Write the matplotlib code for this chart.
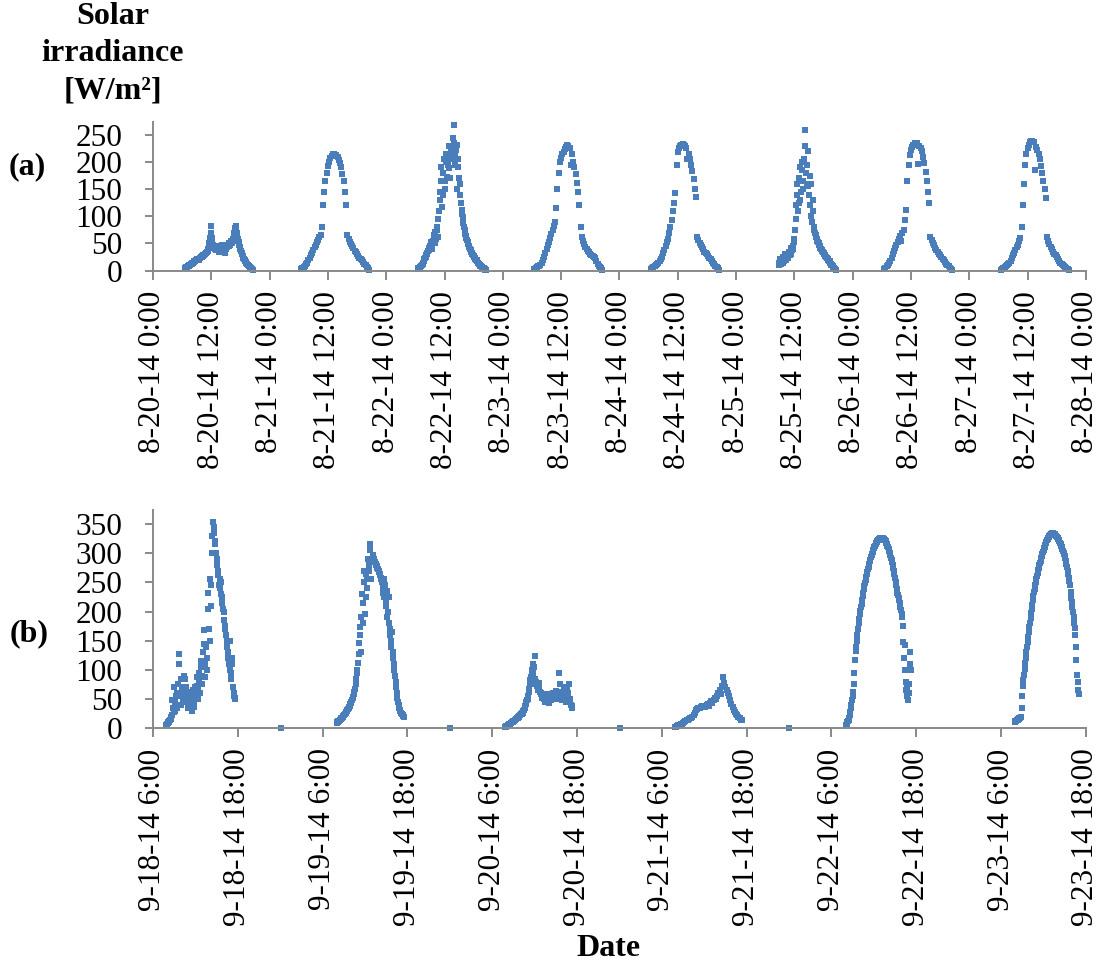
import numpy as np
import matplotlib.pyplot as plt

plt.rcParams['font.family'] = ['Liberation Serif', 'DejaVu Serif']

# (a) 15-min readings, 8-20-14 .. 8-27-14; first reading hour of each day
a_start = [6.5, 6.5, 6.5, 6.5, 6.5, 8.75, 6.5, 6.5]
aug20 = [4, 5, 7, 9, 10, 12, 13, 15, 17, 18, 20, 22, 21, 24, 26, 27, 29, 31, 33, 36,
         42, 60, 82, 55, 44, 40, 42, 45, 38, 41, 46, 43, 37, 33, 40, 44, 48, 45, 52, 50,
         58, 70, 83, 70, 58, 48, 40, 33, 27, 22, 18, 14, 11, 8, 6, 4, 2]
aug21 = [3, 5, 7, 9, 12, 15, 19, 24, 28, 33, 38, 43, 47, 52, 57, 62, 66, 80, 120, 145,
         165, 180, 192, 200, 207, 211, 214, 215, 213, 213, 209, 204, 198, 190, 178, 165, 145, 120, 65, 58,
         53, 49, 45, 41, 37, 34, 30, 27, 24, 22, 20, 16, 13, 10, 7, 4, 2]
aug22 = [3, 5, 6, 9, 12, 18, 24, 29, 33, 38, 45, 52, 47, 60, 72, 58, 80, 95, 130, 165,
         118, 180, 150, 200, 172, 210, 188, 225, 205, 245, 268, 215, 232, 190, 170, 140, 112, 98, 80, 68,
         60, 52, 46, 40, 35, 31, 27, 24, 20, 17, 13, 10, 8, 6, 4, 3, 2]
aug23 = [3, 5, 7, 8, 9, 11, 15, 19, 25, 32, 40, 47, 52, 60, 68, 75, 82, 90, 115, 150,
         180, 200, 208, 214, 219, 224, 228, 231, 230, 226, 195, 215, 200, 190, 178, 162, 145, 120, 80, 62,
         55, 49, 44, 40, 37, 34, 31, 29, 27, 25, 23, 18, 13, 9, 6, 4, 2]
aug24 = [3, 4, 6, 8, 10, 12, 14, 17, 21, 26, 32, 38, 45, 52, 58, 70, 80, 93, 110, 125,
         142, 195, 218, 226, 230, 232, 233, 232, 229, 225, 205, 214, 205, 195, 183, 168, 150, 135, 62, 56,
         51, 47, 43, 39, 35, 32, 30, 27, 24, 21, 18, 15, 12, 9, 6, 4, 2]
aug25 = [10, 18, 12, 22, 15, 25, 20, 28, 24, 32, 30, 38, 45, 58, 95, 140, 110, 170, 130, 185,
         150, 205, 259, 160, 220, 140, 175, 100, 130, 80, 70, 62, 55, 50, 45, 40, 36, 32, 29, 26,
         23, 20, 17, 13, 10, 7, 4, 2]
aug26 = [3, 5, 8, 11, 14, 18, 24, 30, 36, 42, 48, 52, 58, 64, 55, 70, 75, 93, 111, 165,
         195, 212, 222, 228, 232, 234, 235, 234, 197, 230, 226, 220, 210, 198, 182, 165, 145, 125, 62, 56,
         51, 47, 42, 38, 34, 31, 28, 25, 22, 19, 16, 13, 10, 8, 5, 3, 2]
aug27 = [2, 3, 4, 6, 8, 10, 12, 14, 18, 23, 28, 33, 38, 43, 48, 54, 60, 80, 121, 160,
         195, 215, 226, 232, 236, 238, 238, 237, 185, 228, 222, 214, 205, 193, 180, 165, 150, 133, 62, 55,
         49, 44, 39, 35, 31, 28, 25, 21, 18, 15, 12, 10, 8, 6, 4, 3, 2]
a_days = [aug20, aug21, aug22, aug23, aug24, aug25, aug26, aug27]

# extra readings 7.5 min after each of the above on the cloudy days (day index -> values)
aug20_mid = [4, 6, 8, 9, 11, 12, 14, 16, 18, 19, 21, 20, 23, 25, 27, 28, 30, 32, 35, 40,
             50, 70, 60, 48, 42, 38, 46, 40, 35, 44, 47, 40, 35, 38, 42, 46, 50, 48, 55, 54,
             64, 78, 76, 63, 52, 44, 36, 30, 24, 20, 16, 12, 10, 7, 5, 3]
aug22_mid = [4, 5, 8, 10, 15, 21, 26, 31, 36, 42, 50, 40, 55, 65, 50, 75, 62, 110, 145, 190,
             140, 205, 165, 215, 195, 230, 170, 215, 222, 235, 195, 222, 150, 205, 160, 125, 105, 88, 74, 64,
             56, 49, 43, 38, 33, 29, 26, 22, 19, 15, 12, 9, 7, 5, 4, 2]
aug25_mid = [14, 22, 16, 26, 18, 30, 22, 26, 35, 28, 42, 40, 52, 75, 120, 160, 125, 190, 145, 200,
             165, 230, 180, 195, 155, 120, 160, 90, 110, 75, 66, 58, 52, 47, 42, 38, 34, 30, 27, 24,
             21, 18, 15, 11, 8, 5, 3]
a_mid = {0: aug20_mid, 2: aug22_mid, 5: aug25_mid}

a_ticklabels = ['8-20-14 0:00', '8-20-14 12:00', '8-21-14 0:00', '8-21-14 12:00',
                '8-22-14 0:00', '8-22-14 12:00', '8-23-14 0:00', '8-23-14 12:00',
                '8-24-14 0:00', '8-24-14 12:00', '8-25-14 0:00', '8-25-14 12:00',
                '8-26-14 0:00', '8-26-14 12:00', '8-27-14 0:00', '8-27-14 12:00',
                '8-28-14 0:00']

# (b) 9-18-14 .. 9-23-14; first reading hour and sampling step (min)
b_start = [7 + 50 / 60, 8.0, 7 + 50 / 60, 7 + 50 / 60, 8.0, 7 + 55 / 60]
b_step_min = [10, 10, 10, 10, 5, 5]
sep18 = [6, 8, 10, 12, 16, 22, 35, 28, 45, 60, 40, 128, 55, 85, 62, 90, 50, 70, 45, 58,
         38, 48, 30, 65, 42, 55, 72, 50, 95, 60, 105, 75, 168, 88, 140, 100, 231, 150, 210, 300,
         354, 335, 320, 290, 270, 245, 255, 230, 215, 200, 175, 160, 140, 120, 150, 95, 110, 70, 55, 50]
sep19 = [9, 11, 13, 15, 17, 20, 22, 25, 28, 31, 35, 39, 43, 48, 54, 62, 75, 94, 111, 146,
         174, 130, 215, 250, 195, 265, 240, 280, 305, 255, 290, 296, 286, 282, 278, 272, 268, 262, 255, 240,
         225, 245, 210, 190, 225, 170, 150, 165, 120, 100, 80, 60, 45, 35, 30, 25, 22, 20]
sep20 = [3, 4, 5, 7, 8, 9, 11, 12, 14, 16, 17, 19, 21, 23, 25, 27, 32, 38, 45, 50,
         62, 75, 88, 100, 95, 124, 80, 72, 65, 78, 60, 55, 58, 50, 45, 52, 48, 44, 55, 50,
         57, 52, 60, 55, 50, 58, 94, 62, 48, 55, 70, 52, 45, 60, 75, 50, 40, 35]
sep21 = [2, 3, 4, 5, 6, 7, 8, 9, 10, 12, 14, 15, 16, 17, 18, 20, 22, 26, 31, 33,
         34, 35, 36, 38, 37, 39, 36, 40, 42, 38, 44, 46, 43, 48, 52, 50, 56, 60, 65, 58,
         72, 88, 78, 70, 66, 60, 55, 48, 42, 37, 32, 28, 24, 22, 19, 17, 15, 14]
sep22 = [5, 6, 8, 10, 12, 15, 18, 22, 28, 35, 40, 48,
         55, 62, 75, 95, 117, 132, 140, 150, 160, 170, 180, 188,
         195, 201, 207, 213, 220, 226, 232, 238, 244, 249, 254, 259,
         264, 268, 273, 277, 282, 286, 289, 293, 296, 299, 302, 305,
         308, 310, 313, 315, 317, 319, 320, 322, 323, 324, 325, 326,
         326, 326, 326, 326, 325, 324, 323, 322, 320, 318, 316, 313,
         310, 307, 304, 300, 296, 292, 288, 284, 280, 275, 270, 265,
         258, 250, 245, 238, 232, 228, 224, 220, 214, 208, 202, 196,
         190, 175, 148, 120, 143, 100, 80, 65, 55, 70, 48, 60,
         75, 130, 110, 100]
sep23 = [11, 12, 13, 13, 14, 15, 16, 16, 17, 18, 19, 20,
         35, 55, 72, 82, 92, 102, 112, 121, 130, 140, 148, 157,
         165, 174, 181, 189, 197, 205, 212, 220, 226, 233, 239, 245,
         251, 256, 261, 266, 271, 275, 279, 283, 287, 291, 295, 298,
         302, 305, 308, 311, 314, 317, 319, 322, 324, 326, 328, 330,
         331, 332, 333, 334, 334, 334, 333, 333, 332, 331, 330, 329,
         328, 326, 324, 322, 320, 317, 315, 312, 310, 307, 304, 301,
         298, 295, 291, 286, 281, 276, 270, 264, 258, 253, 245, 234,
         224, 216, 208, 200, 190, 180, 172, 160, 140, 117, 91, 80,
         65, 58]
b_days = [sep18, sep19, sep20, sep21, sep22, sep23]

# extra readings 5 min after each 10-min reading on the cloudy days
sep18_mid = [7, 9, 11, 14, 19, 48, 70, 30, 55, 35, 75, 110, 40, 70, 48, 60, 85, 55, 35, 62,
             42, 58, 48, 36, 70, 60, 88, 65, 80, 115, 90, 130, 145, 110, 120, 205, 170, 255, 245, 330,
             345, 315, 300, 280, 262, 240, 250, 225, 205, 185, 170, 150, 130, 110, 100, 85, 120, 60, 52]
sep19_mid = [10, 12, 14, 16, 18, 21, 23, 26, 30, 33, 37, 41, 45, 51, 58, 68, 85, 100, 128, 160,
             190, 230, 180, 270, 225, 255, 290, 270, 315, 285, 292, 290, 284, 280, 275, 270, 265, 258, 250, 232,
             255, 218, 235, 200, 180, 160, 140, 130, 110, 90, 70, 52, 40, 32, 27, 24, 21]
sep20_mid = [3, 4, 6, 7, 8, 10, 11, 13, 15, 16, 18, 20, 22, 24, 26, 30, 35, 42, 48, 56,
             68, 82, 95, 110, 105, 85, 75, 68, 72, 62, 58, 52, 55, 48, 50, 46, 52, 58, 48, 54,
             60, 55, 52, 64, 57, 52, 75, 56, 50, 62, 58, 48, 65, 55, 45, 40, 38]
b_mid = {0: sep18_mid, 1: sep19_mid, 2: sep20_mid}

b_midnight_t = [24.1, 48.05, 72.1, 96.05]  # hours after 9-18-14 0:00
b_midnight_v = [0, 0, 0, 0]
b_ticklabels = ['9-18-14 6:00', '9-18-14 18:00', '9-19-14 6:00', '9-19-14 18:00',
                '9-20-14 6:00', '9-20-14 18:00', '9-21-14 6:00', '9-21-14 18:00',
                '9-22-14 6:00', '9-22-14 18:00', '9-23-14 6:00', '9-23-14 18:00']

BLUE = '#4a7ebb'
GRAY = '#898989'
mk = dict(ls='none', marker='s', ms=3.8, mew=0, color=BLUE, clip_on=False)

fig = plt.figure(figsize=(11.02, 9.66), dpi=100)
ax_a = fig.add_axes([0.1388, 0.7198, 0.8466, 0.1536])
ax_b = fig.add_axes([0.1388, 0.2461, 0.8466, 0.2260])

for d, (start, vals) in enumerate(zip(a_start, a_days)):
    t = 24 * d + start + 0.25 * np.arange(len(vals))
    ax_a.plot(t, vals, **mk)
    if d in a_mid:
        ax_a.plot(t[:len(a_mid[d])] + 0.125, a_mid[d], **mk)

for d, (start, step, vals) in enumerate(zip(b_start, b_step_min, b_days)):
    t = 24 * d + start + step / 60 * np.arange(len(vals))
    ax_b.plot(t, vals, **mk)
    if d in b_mid:
        ax_b.plot(t[:len(b_mid[d])] + step / 120, b_mid[d], **mk)
ax_b.plot(b_midnight_t, b_midnight_v, **mk)

ax_a.set_xlim(0, 192)
ax_a.set_ylim(0, 273)
ax_a.set_xticks(np.arange(0, 193, 12))
ax_a.set_xticklabels(a_ticklabels)
ax_a.set_yticks(np.arange(0, 251, 50))

ax_b.set_xlim(6, 138)
ax_b.set_ylim(0, 374)
ax_b.set_xticks(np.arange(6, 139, 12))
ax_b.set_xticklabels(b_ticklabels)
ax_b.set_yticks(np.arange(0, 351, 50))

for ax in (ax_a, ax_b):
    for s in ['top', 'right']:
        ax.spines[s].set_visible(False)
    for s in ['left', 'bottom']:
        ax.spines[s].set_color(GRAY)
        ax.spines[s].set_linewidth(1.4)
    ax.tick_params(axis='x', direction='out', length=6.5, width=1.4, color=GRAY,
                   pad=8, labelsize=22.5, labelrotation=90)
    ax.tick_params(axis='y', direction='out', length=6, width=1.4, color=GRAY,
                   pad=16, labelsize=22.5)

fig.text(0.1025, 0.998, 'Solar\nirradiance\n[W/m²]', ha='center', va='top',
         fontsize=23, fontweight='bold', linespacing=1.38)
fig.text(0.0245, 0.8271, '(a)', ha='center', va='center', fontsize=23, fontweight='bold')
fig.text(0.0263, 0.3437, '(b)', ha='center', va='center', fontsize=23, fontweight='bold')
fig.text(0.5526, 0.0176, 'Date', ha='center', va='center', fontsize=23, fontweight='bold')

fig.savefig('out.png', dpi=100)
